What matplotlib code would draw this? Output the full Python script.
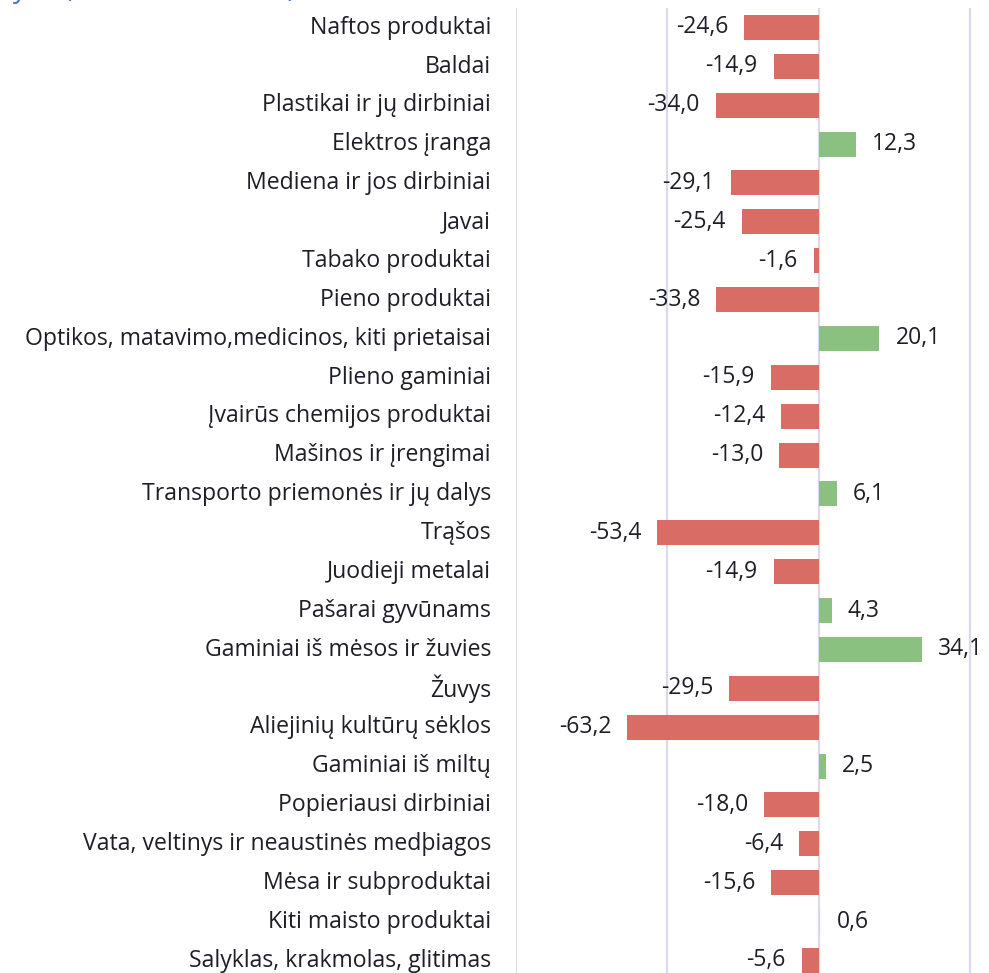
import numpy as np
import matplotlib
matplotlib.use("Agg")
import matplotlib.pyplot as plt
import matplotlib.transforms as mtransforms

plt.rcParams["font.family"] = ["Open Sans", "DejaVu Sans"]

# ----- Data -----
categories = [
    "Naftos produktai",
    "Baldai",
    "Plastikai ir jų dirbiniai",
    "Elektros įranga",
    "Mediena ir jos dirbiniai",
    "Javai",
    "Tabako produktai",
    "Pieno produktai",
    "Optikos, matavimo,medicinos, kiti prietaisai",
    "Plieno gaminiai",
    "Įvairūs chemijos produktai",
    "Mašinos ir įrengimai",
    "Transporto priemonės ir jų dalys",
    "Trąšos",
    "Juodieji metalai",
    "Pašarai gyvūnams",
    "Gaminiai iš mėsos ir žuvies",
    "Žuvys",
    "Aliejinių kultūrų sėklos",
    "Gaminiai iš miltų",
    "Popieriausi dirbiniai",
    "Vata, veltinys ir neaustinės medþiagos",
    "Mėsa ir subproduktai",
    "Kiti maisto produktai",
    "Salyklas, krakmolas, glitimas",
]
values = [-24.6, -14.9, -34.0, 12.3, -29.1, -25.4, -1.6, -33.8, 20.1, -15.9,
          -12.4, -13.0, 6.1, -53.4, -14.9, 4.3, 34.1, -29.5, -63.2, 2.5,
          -18.0, -6.4, -15.6, 0.6, -5.6]
grid_ticks = [-100, -50, 0, 50]

COLOR_NEG = "#D96C64"
COLOR_POS = "#8AC080"
COLOR_TINY = "#F3C6C2"   # the near-zero positive bar looks pale
TEXT_COLOR = "#1E1E28"
GRID_COLOR = "#DADAEA"

W, H = 989, 973
fig = plt.figure(figsize=(W / 100, H / 100), dpi=100)

# axes placed in pixel terms: left 516, top 8, rows of ~38.9 px
left_px, top_px, right_px = 516, 8, 989
row_px = 38.875
bottom_px = top_px + row_px * len(categories)
ax = fig.add_axes([left_px / W, (H - bottom_px) / H,
                   (right_px - left_px) / W, (bottom_px - top_px) / H])

y = np.arange(len(categories))
colors = [COLOR_NEG if v < 0 else (COLOR_TINY if v < 1 else COLOR_POS) for v in values]
ax.barh(y, values, height=0.64, color=colors, zorder=3)

# value labels just outside the bar end
for yi, v in zip(y, values):
    txt = f"{v:.1f}".replace(".", ",")
    off = -11.5 if v < 0 else 11.5
    ax.annotate(txt, (v, yi), xytext=(off, 0), textcoords="offset points",
                ha="right" if v < 0 else "left", va="center",
                fontsize=16.5, color=TEXT_COLOR)

ax.set_xlim(-100, 56.3)
ax.set_ylim(len(categories) - 0.5, -0.5)
ax.set_xticks(grid_ticks)
ax.tick_params(axis="x", length=0, labelbottom=False)
ax.grid(True, axis="x", color=GRID_COLOR, linewidth=1.6, zorder=0)
ax.set_axisbelow(True)
ax.set_yticks(y)
ax.set_yticklabels(categories, fontsize=16.6, color=TEXT_COLOR)
ax.tick_params(axis="y", length=0, pad=18)
# lift the category labels a touch so the last one fits
lift = mtransforms.ScaledTranslation(0, 2 / 72, fig.dpi_scale_trans)
for lab in ax.get_yticklabels():
    lab.set_transform(lab.get_transform() + lift)
for s in ax.spines.values():
    s.set_visible(False)

# title, mostly cut off at the top of the picture as in the source image
fig.text(296 / W, 1 + 3 / H, "Eksporto pokytis (2020 m. 10 mėn.)",
         ha="right", va="baseline", fontsize=20, color="#4472C4")

fig.savefig("out.png", dpi=100)
print("Saved out.png")
